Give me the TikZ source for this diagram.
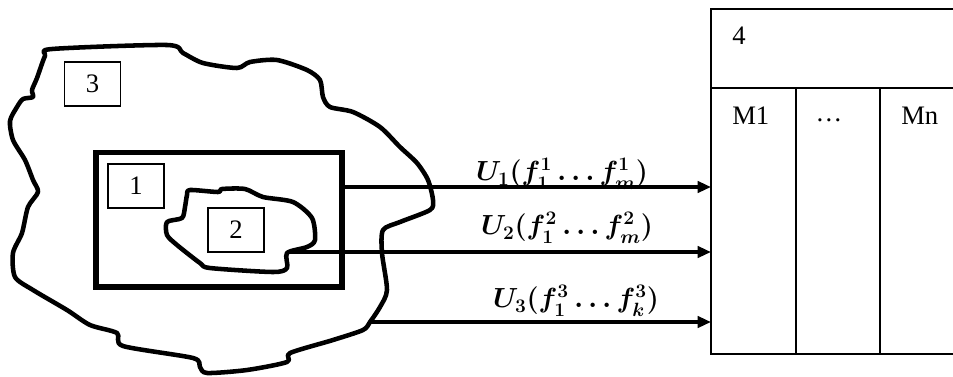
\documentclass[tikz,border=0pt]{standalone}
\usepackage{fontspec}
\setmainfont{Liberation Serif}
\usetikzlibrary{arrows.meta}

\begin{document}
\begin{tikzpicture}[x=0.75pt,y=-0.75pt,
  every node/.style={font=\fontsize{20}{24}\selectfont},
  numbox/.style={draw,line width=1pt,minimum width=42pt,minimum height=33pt,inner sep=0pt},
  blob/.style={line width=3.4pt,line join=round},
  flow/.style={line width=2.4pt,-{Triangle[length=10pt,width=8.5pt]}},
  flowlab/.style={font=\fontsize{21}{24}\selectfont\boldmath},
  tabline/.style={line width=1.3pt}]
\useasboundingbox (0,0) rectangle (953,376);
% outer region 3
\draw[blob] plot[smooth cycle,tension=0.45] coordinates {
 (167,45) (52,49) (45,56) (37,78) (32,90) (33,97) (23,99) (17,107)
 (10,121) (13,140) (25,160) (33,180) (38,192) (28,207) (22,233)
 (13,253) (15,277) (33,290) (67,310) (90,325) (117,333) (123,346)
 (193,358) (200,367) (207,373) (247,370) (287,362) (290,353)
 (333,340) (363,330) (370,322) (380,307) (387,290) (382,253)
 (383,230) (400,222) (430,210) (433,200) (428,180) (417,163)
 (400,147) (380,127) (353,112) (330,107) (323,97) (320,80)
 (307,70) (277,60) (250,62) (237,68) (203,63) (183,53)};
% system 1
\node[draw,line width=4pt,minimum width=184.5pt,minimum height=101pt,inner sep=0pt] (sys) at (219,219.5) {};
% inner region 2
\draw[blob] plot[smooth cycle,tension=0.45] coordinates {
 (190,190) (218,192) (222,189) (245,189) (263,197) (293,202)
 (312,218) (315,240) (307,247) (287,253) (287,268) (273,272)
 (210,268) (200,263) (177,245) (167,235) (167,222) (182,218)
 (185,207) (187,195)};
\node[numbox] (n3) at (92.5,84) {3};
\node[numbox] (n1) at (136,186) {1};
\node[numbox] (n2) at (236,230) {2};
% table 4
\draw[tabline] (956,9) -- (711,9) -- (711,354) -- (956,354);
\draw[tabline] (711,88) -- (956,88);
\draw[tabline] (796,88) -- (796,354);
\draw[tabline] (880,88) -- (880,354);
\node[anchor=west,inner sep=0pt] (t4) at (732,36) {4};
\node[anchor=west,inner sep=0pt] (m1) at (732,116) {M1};
\node[inner sep=0pt] (md) at (829,120) {\dots};
\node[anchor=west,inner sep=0pt] (mn) at (901,116) {Mn};
\coordinate (in1) at (711,187);
\coordinate (in2) at (711,252);
\coordinate (in3) at (711,322);
\coordinate (out2) at (288,252);
\coordinate (out3) at (371,322);
% flows
\draw[flow] (sys.east |- in1) -- (in1);
\draw[flow] (out2) -- (in2);
\draw[flow] (out3) -- (in3);
\node[flowlab] (u1) at (562,174) {$U_1(f_1^1\ldots f_m^1)$};
\node[flowlab] (u2) at (567,228) {$U_2(f_1^2\ldots f_m^2)$};
\node[flowlab] (u3) at (576,301) {$U_3(f_1^3\ldots f_k^3)$};
\end{tikzpicture}
\end{document}
